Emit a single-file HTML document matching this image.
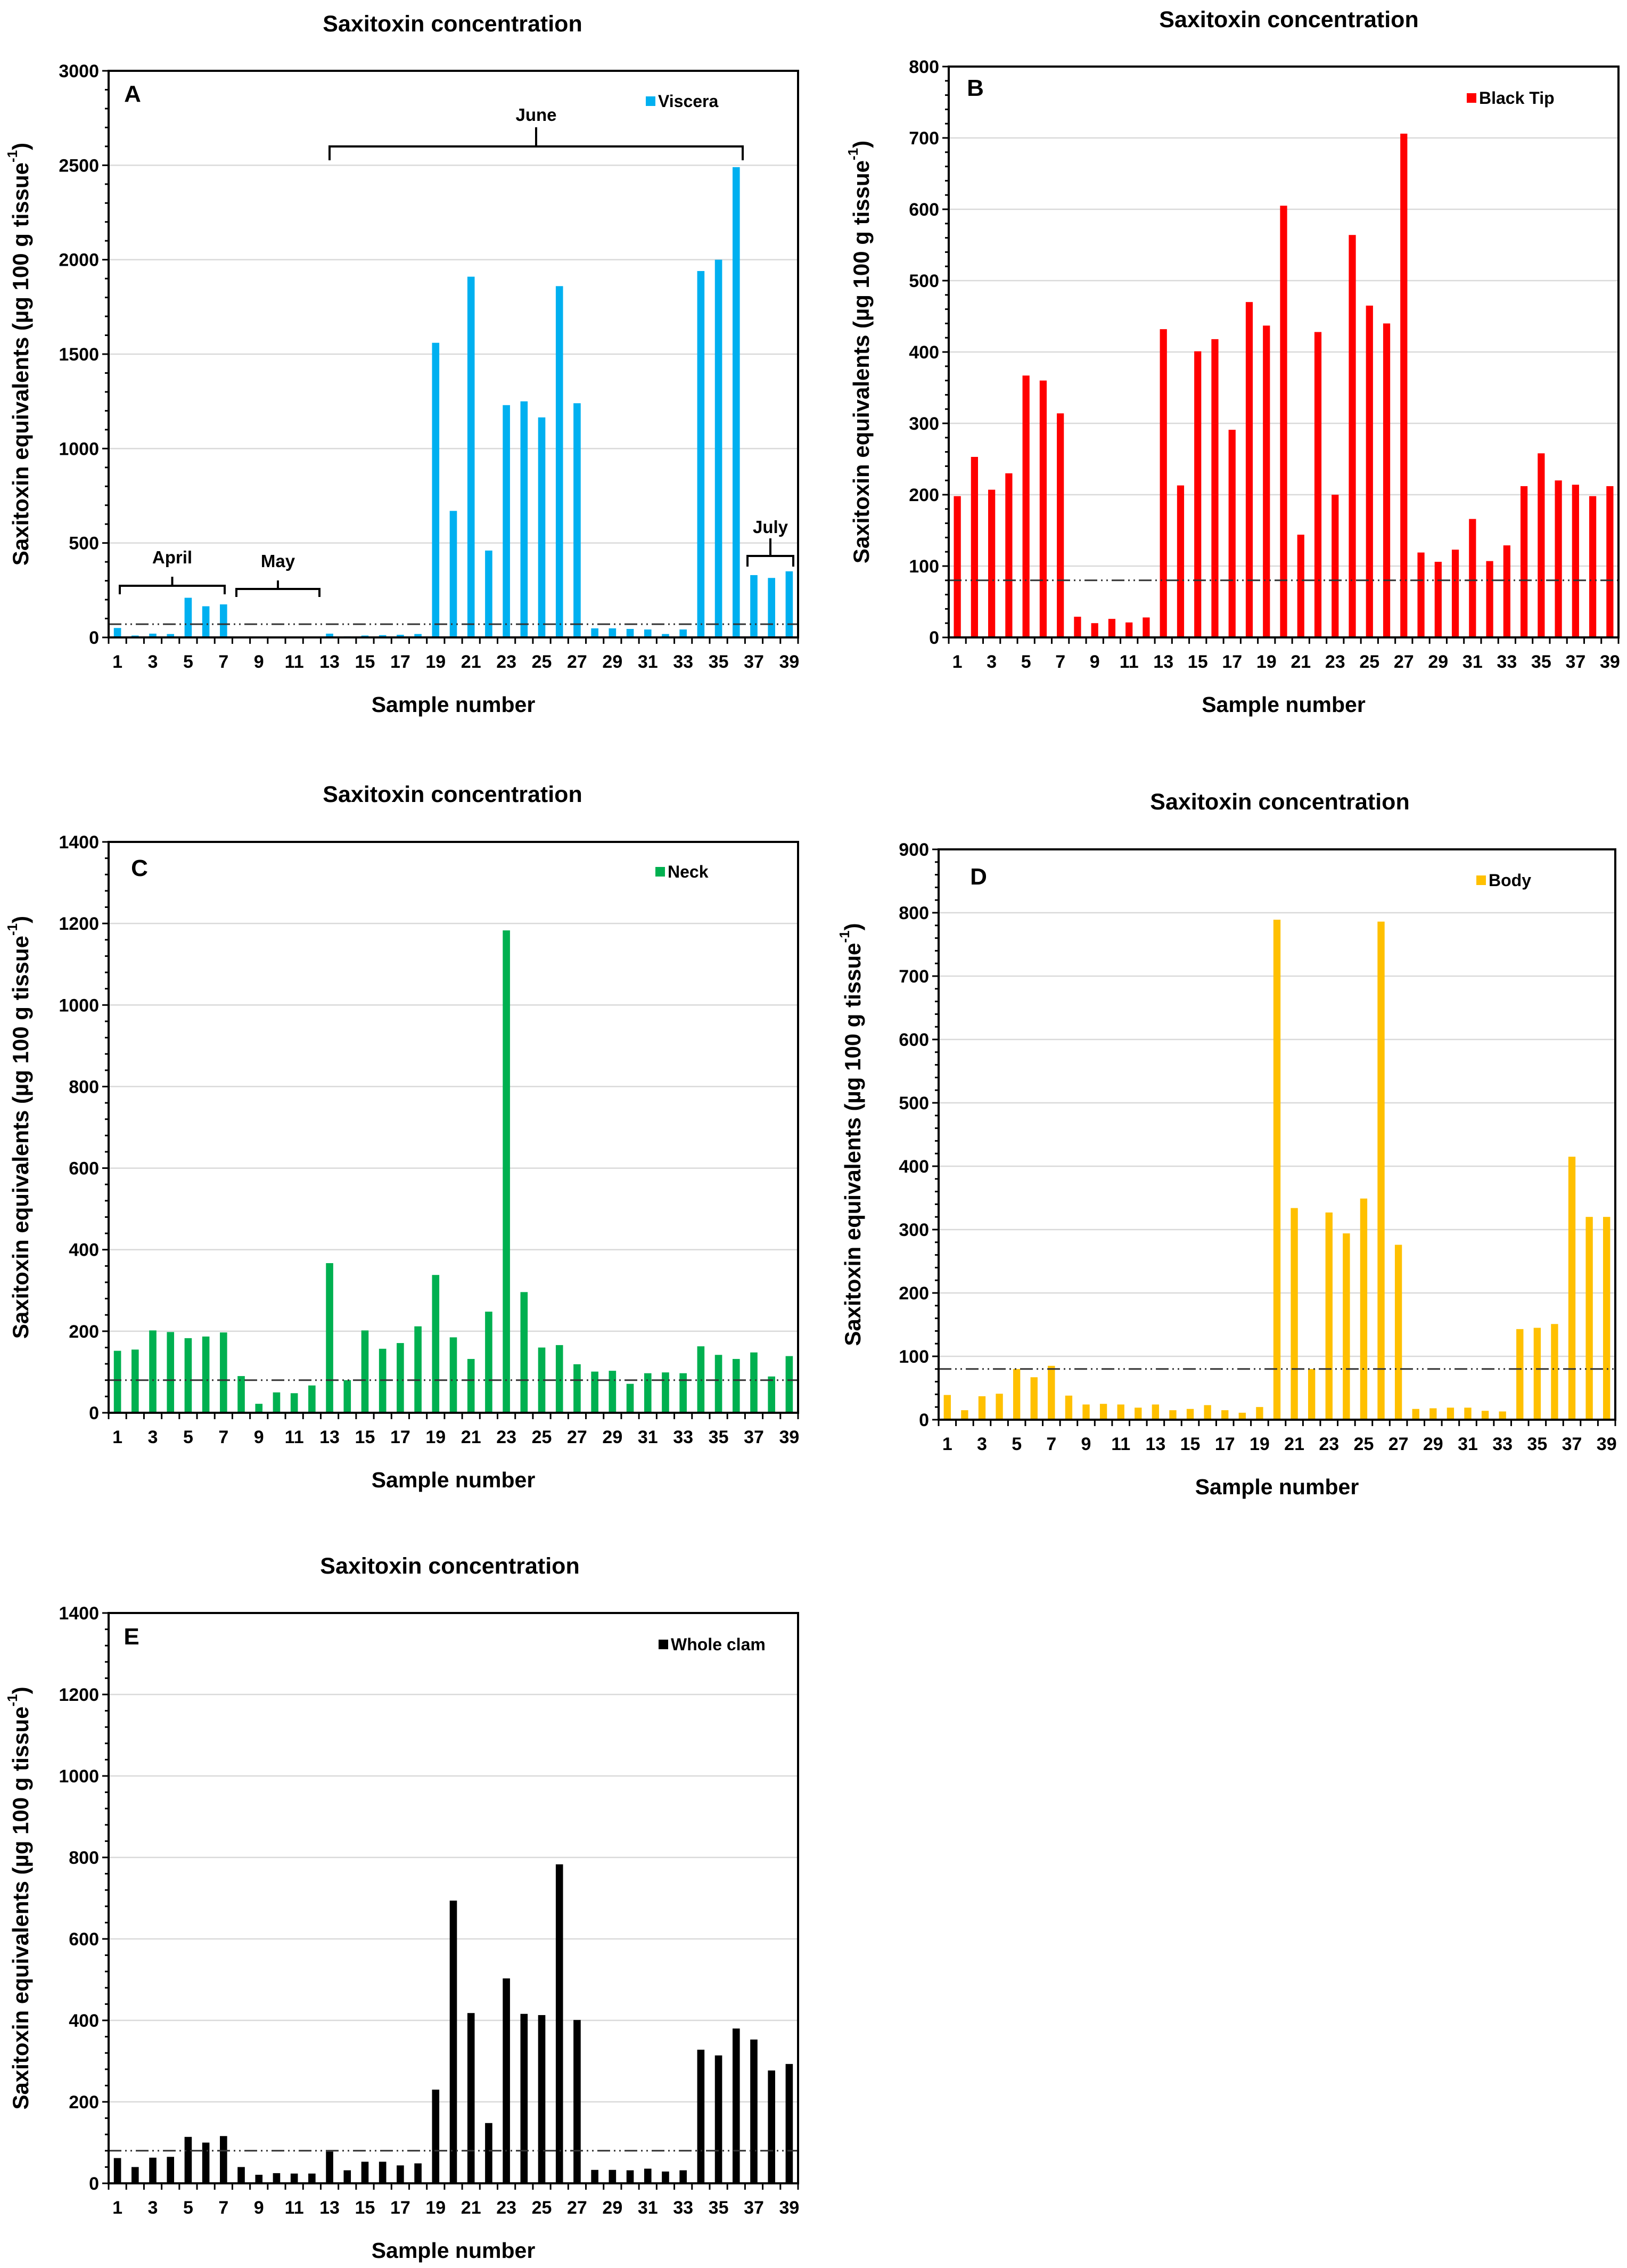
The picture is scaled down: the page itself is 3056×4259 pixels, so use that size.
<!DOCTYPE html>
<html><head><meta charset="utf-8">
<style>
html,body{margin:0;padding:0;background:#fff;}
svg{display:block;font-family:"Liberation Sans",Arial,sans-serif;font-weight:bold;}
</style></head>
<body>
<svg id="chart" xmlns="http://www.w3.org/2000/svg" width="3056" height="4259" viewBox="0 0 3056 4259">
<rect x="0" y="0" width="3056" height="4259" fill="#fff"/>
</svg>
<script>
const categories = [];
for (let i = 1; i <= 39; i++) categories.push(i);
const xTickLabels = [1,3,5,7,9,11,13,15,17,19,21,23,25,27,29,31,33,35,37,39];

const visceraValues = [50,10,20,18,210,165,175,3,2,2,3,2,20,6,10,12,14,18,1560,670,1910,460,1230,1250,1165,1860,1240,48,48,45,42,18,42,1940,2000,2490,330,315,350];
const blackTipValues = [198,253,207,230,367,360,314,29,20,26,21,28,432,213,401,418,291,470,437,605,144,428,200,564,465,440,706,119,106,123,166,107,129,212,258,220,214,198,212];
const neckValues = [152,155,202,198,183,187,197,90,22,50,48,67,367,80,202,157,171,212,338,185,132,248,1183,296,160,166,119,101,103,71,97,99,97,163,142,132,148,89,139];
const bodyValues = [39,15,37,41,80,67,85,38,24,25,24,19,24,15,17,23,15,11,20,789,334,80,327,294,349,786,276,17,18,19,19,14,13,143,145,151,415,320,320];
const wholeClamValues = [62,40,63,65,114,100,116,40,21,25,24,24,78,32,53,53,44,49,230,694,418,148,503,416,413,783,401,33,33,32,36,29,32,328,314,380,353,277,293];

const yTicksA = [0,500,1000,1500,2000,2500,3000];
const yTicksB = [0,100,200,300,400,500,600,700,800];
const yTicksC = [0,200,400,600,800,1000,1200,1400];
const yTicksD = [0,100,200,300,400,500,600,700,800,900];
const yTicksE = [0,200,400,600,800,1000,1200,1400];
const thresholds = [70,80,80,80,80];

const NS = "http://www.w3.org/2000/svg";
const svg = document.getElementById('chart');
function mk(tag, attrs, parent, text) {
  const e = document.createElementNS(NS, tag);
  for (const k in attrs) e.setAttribute(k, attrs[k]);
  if (text !== undefined) e.textContent = text;
  (parent || svg).appendChild(e);
  return e;
}

const panels = [
  {id:'a', letter:'A', values:visceraValues, ticks:yTicksA, minor:100, color:'#00b0f0', legend:'Viscera', thr:thresholds[0],
   L:204, R:1499, T:133, B:1197, titleX:850, titleY:44, ylabX:38, legX:1222, legY:190, letX:249, letY:176,
   ylab:'Saxitoxin equivalents (µg 100 g tissue'},
  {id:'b', letter:'B', values:blackTipValues, ticks:yTicksB, minor:20, color:'#ff0000', legend:'Black Tip', thr:thresholds[1],
   L:1782, R:3040, T:125, B:1197, titleX:2421, titleY:36, ylabX:1617, legX:2764, legY:184, letX:1832, letY:165,
   ylab:'Saxitoxin equivalents (µg 100 g tissue'},
  {id:'c', letter:'C', values:neckValues, ticks:yTicksC, minor:40, color:'#00b050', legend:'Neck', thr:thresholds[2],
   L:204, R:1499, T:1581, B:2653, titleX:850, titleY:1491, ylabX:38, legX:1240, legY:1637, letX:262, letY:1630,
   ylab:'Saxitoxin equivalents (µg 100 g tissue'},
  {id:'d', letter:'D', values:bodyValues, ticks:yTicksD, minor:20, color:'#ffc000', legend:'Body', thr:thresholds[3],
   L:1763, R:3034, T:1595, B:2666, titleX:2404, titleY:1505, ylabX:1601, legX:2782, legY:1653, letX:1838, letY:1646,
   ylab:'Saxitoxin equivalents (µg 100 g tissue'},
  {id:'e', letter:'E', values:wholeClamValues, ticks:yTicksE, minor:40, color:'#000000', legend:'Whole clam', thr:thresholds[4],
   L:204, R:1499, T:3029, B:4100, titleX:845, titleY:2940, ylabX:38, legX:1246, legY:3088, letX:247, letY:3073,
   ylab:'Saxitoxin  equivalents (µg 100 g tissue'}
];

panels.forEach(p => {
  const g = mk('g', {});
  
  
  const ymax = p.ticks[p.ticks.length - 1];
  const yScale = v => p.B - (v / ymax) * (p.B - p.T);
  const step = (p.R - p.L) / categories.length;
  const xCenter = i => p.L + step * (i + 0.5);

  p.ticks.forEach(t => {
    if (t === 0 || t === ymax) return;
    const gl = mk('line', {x1:p.L, x2:p.R, y1:yScale(t), y2:yScale(t), stroke:'#d9d9d9', 'stroke-width':2.5}, g);
    
    
  });

  p.values.forEach((v, i) => {
    const bw = step * 0.41;
    const r = mk('rect', {x:xCenter(i) - bw/2, y:yScale(v), width:bw, height:p.B - yScale(v), fill:p.color}, g);
    
    
  });

  const th = mk('line', {x1:p.L, x2:p.R, y1:yScale(p.thr), y2:yScale(p.thr), stroke:'#333', 'stroke-width':3, 'stroke-dasharray':'24 7 3 7 3 7'}, g);
  
  

  const fr = mk('rect', {x:p.L, y:p.T, width:p.R - p.L, height:p.B - p.T, fill:'none', stroke:'#000', 'stroke-width':4}, g);
  
  

  for (let v = 0; v <= ymax; v += p.minor) {
    const major = p.ticks.indexOf(v) >= 0;
    const tk = mk('line', {x1:p.L - (major ? 12 : 7), x2:p.L, y1:yScale(v), y2:yScale(v), stroke:'#000', 'stroke-width':3}, g);
    
    
  }
  p.ticks.forEach(t => {
    const tl = mk('text', {x:p.L - 18, y:yScale(t) + 12, 'text-anchor':'end', 'font-size':34}, g, String(t));
    
    
  });

  for (let i = 0; i <= categories.length; i++) {
    const x = p.L + step * i;
    const tk = mk('line', {x1:x, x2:x, y1:p.B, y2:p.B + 12, stroke:'#000', 'stroke-width':3}, g);
    
    
  }
  xTickLabels.forEach(c => {
    const tl = mk('text', {x:xCenter(c - 1), y:p.B + 57, 'text-anchor':'middle', 'font-size':34}, g, String(c));
    
    
  });

  const tt = mk('text', {x:p.titleX, y:p.titleY + 15, 'text-anchor':'middle', 'font-size':43}, g, 'Saxitoxin concentration');
  
  
  const xl = mk('text', {x:(p.L + p.R) / 2, y:p.B + 140, 'text-anchor':'middle', 'font-size':41}, g, 'Sample number');
  
  
  const yc = (p.T + p.B) / 2;
  const yl = mk('text', {x:p.ylabX, y:yc, 'text-anchor':'middle', 'font-size':42, transform:'rotate(-90 ' + p.ylabX + ' ' + yc + ')', 'dominant-baseline':'central'}, g);
  
  
  mk('tspan', {}, yl, p.ylab);
  mk('tspan', {'font-size':26, dy:-15}, yl, '-1');
  mk('tspan', {dy:15}, yl, ')');

  const lt = mk('text', {x:p.letX, y:p.letY + 15, 'text-anchor':'middle', 'font-size':44}, g, p.letter);
  
  

  const lg = mk('g', {}, g);
  
  
  mk('rect', {x:p.legX - 9, y:p.legY - 9, width:18, height:18, fill:p.color}, lg);
  mk('text', {x:p.legX + 14, y:p.legY + 11, 'font-size':32}, lg, p.legend);
});

const months = [
  {label:'April', x1:225, x2:422, y:1100, yEnd:1116, tickTop:1083, ly:1046},
  {label:'May', x1:444, x2:600, y:1106, yEnd:1121, tickTop:1090, ly:1053},
  {label:'June', x1:619, x2:1395, y:275, yEnd:301, tickTop:239, ly:215},
  {label:'July', x1:1404, x2:1490, y:1044, yEnd:1064, tickTop:1011, ly:989}
];
months.forEach(m => {
  const g = mk('g', {fill:'none', stroke:'#000', 'stroke-width':4});
  
  
  const cx = (m.x1 + m.x2) / 2;
  mk('path', {d:'M' + m.x1 + ' ' + m.yEnd + ' L' + m.x1 + ' ' + m.y + ' L' + m.x2 + ' ' + m.y + ' L' + m.x2 + ' ' + m.yEnd + ' M' + cx + ' ' + m.y + ' L' + cx + ' ' + m.tickTop}, g);
  const t = mk('text', {x:cx, y:m.ly + 12, 'text-anchor':'middle', 'font-size':33, fill:'#000', stroke:'none'}, g, m.label);
  
  
});
</script>
</body></html>
